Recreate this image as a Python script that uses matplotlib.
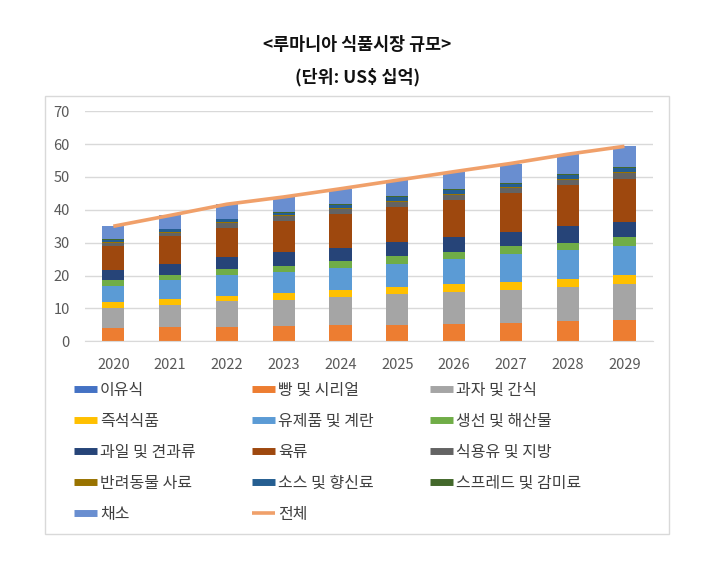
import matplotlib
matplotlib.use("Agg")
import matplotlib.pyplot as plt
from matplotlib.lines import Line2D
from matplotlib.patches import Rectangle
import numpy as np

plt.rcParams["font.family"] = ["Noto Sans CJK KR", "DejaVu Sans"]

years = ["2020", "2021", "2022", "2023", "2024", "2025", "2026", "2027", "2028", "2029"]

# stacked segments, bottom to top (US$ billions)
baby_food = [0.1, 0.1, 0.1, 0.1, 0.1, 0.1, 0.1, 0.1, 0.1, 0.1]
bread = [3.9, 4.3, 4.3, 4.6, 4.8, 5.0, 5.3, 5.5, 6.0, 6.3]
snacks = [6.1, 6.8, 7.8, 8.0, 8.6, 9.2, 9.5, 10.1, 10.4, 11.1]
ready_meals = [1.8, 1.8, 1.7, 2.0, 2.0, 2.3, 2.4, 2.3, 2.6, 2.6]
dairy = [4.8, 5.8, 6.2, 6.4, 6.9, 7.0, 7.8, 8.5, 8.6, 8.8]
fish = [1.8, 1.5, 1.8, 1.8, 2.0, 2.3, 2.1, 2.4, 2.3, 2.7]
fruit_nuts = [3.1, 3.3, 3.8, 4.3, 4.1, 4.3, 4.6, 4.4, 5.0, 4.8]
meat = [7.5, 8.4, 8.9, 9.4, 10.1, 10.7, 11.1, 11.7, 12.5, 13.1]
oils = [0.9, 1.0, 1.4, 1.4, 1.5, 1.5, 1.5, 1.5, 1.5, 1.8]
pet_food = [0.2, 0.3, 0.3, 0.3, 0.3, 0.3, 0.3, 0.3, 0.3, 0.3]
sauces = [0.7, 0.8, 0.8, 0.8, 1.0, 1.1, 1.2, 1.0, 1.2, 1.2]
spreads = [0.2, 0.2, 0.2, 0.3, 0.3, 0.3, 0.3, 0.3, 0.3, 0.3]
vegetables = [3.9, 4.0, 4.4, 4.5, 4.7, 4.9, 5.4, 5.8, 6.1, 6.2]
total = [35.0, 38.3, 41.7, 43.9, 46.4, 49.0, 51.6, 54.1, 56.9, 59.3]

labels = ["이유식", "빵 및 시리얼", "과자 및 간식", "즉석식품", "유제품 및 계란",
          "생선 및 해산물", "과일 및 견과류", "육류", "식용유 및 지방",
          "반려동물 사료", "소스 및 향신료", "스프레드 및 감미료", "채소"]
colors = ["#4472C4", "#ED7D31", "#A5A5A5", "#FFC000", "#5B9BD5", "#70AD47",
          "#264478", "#9E480E", "#636363", "#997300", "#255E91", "#43682B", "#698ED0"]
series = [baby_food, bread, snacks, ready_meals, dairy, fish, fruit_nuts, meat,
          oils, pet_food, sauces, spreads, vegetables]

fig = plt.figure(figsize=(7.02, 5.67), dpi=100)
ax = fig.add_axes([0.121, 0.398, 0.809, 0.406])

x = np.arange(len(years))
bottom = np.zeros(len(years))
for vals, col in zip(series, colors):
    ax.bar(x, vals, width=0.39, bottom=bottom, color=col, zorder=2)
    bottom += np.array(vals)

ax.plot(x, total, color="#F0A06A", lw=2.6, zorder=3, solid_capstyle="butt")

ax.set_xlim(-0.5, len(years) - 0.5)
ax.set_ylim(0, 70)
ax.set_yticks(range(0, 71, 10))
ax.set_xticks(x)
ax.set_xticklabels(years)
ax.grid(axis="y", color="#D9D9D9", lw=1, zorder=0)
for side in ["top", "right", "left"]:
    ax.spines[side].set_visible(False)
ax.spines["bottom"].set_color("#D9D9D9")
ax.tick_params(length=0, labelsize=10.5, colors="#595959")
ax.tick_params(axis="x", pad=12)
ax.tick_params(axis="y", pad=11)

# outer chart border
fig.patches.append(Rectangle((45 / 702, 1 - 534 / 567), 624 / 702, 438 / 567,
                             transform=fig.transFigure, fill=False,
                             edgecolor="#D9D9D9", lw=1))

fig.text(0.509, 0.921, "<루마니아 식품시장 규모>", ha="center", va="center",
         fontsize=12.5, fontweight="bold", color="#111111")
fig.text(0.509, 0.864, "(단위: US$ 십억)", ha="center", va="center",
         fontsize=12.5, fontweight="bold", color="#111111")

handles = [Line2D([], [], color=c, lw=5, solid_capstyle="butt") for c in colors]
handles.append(Line2D([], [], color="#F0A06A", lw=2.6, solid_capstyle="butt"))
all_labels = labels + ["전체"]
order = [0, 3, 6, 9, 12, 1, 4, 7, 10, 13, 2, 5, 8, 11]
fig.legend([handles[i] for i in order], [all_labels[i] for i in order],
           ncol=3, loc="upper left", bbox_to_anchor=(0.0855, 0.352),
           frameon=False, fontsize=11.5, handlelength=1.4, handletextpad=0.2,
           columnspacing=3.55, labelspacing=0.88, labelcolor="#404040")

fig.savefig("out.png", dpi=100)
